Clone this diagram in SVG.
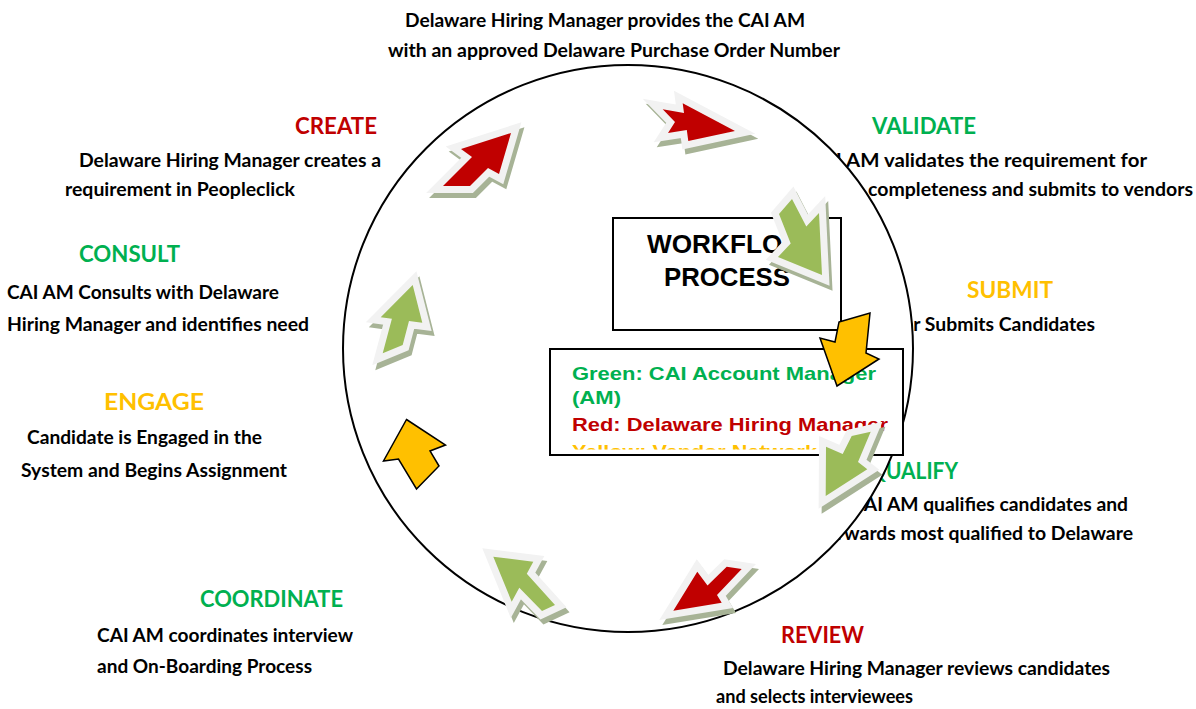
<svg xmlns="http://www.w3.org/2000/svg" xmlns:xlink="http://www.w3.org/1999/xlink" width="1196" height="709" viewBox="0 0 1196 709">
<style>
.t{font-family:Lato,'Liberation Sans',Arial,sans-serif;font-weight:700;font-size:19.5px;fill:#000}
.top{font-size:18px}
.h{font-size:23px}
.red{fill:#C00000}
.grn{fill:#00B050}
.yel{fill:#FFC000}
.lg{font-family:'Liberation Sans',Arial,sans-serif;font-weight:700;font-size:18.5px}
.wf{font-family:'Liberation Sans',Arial,sans-serif;font-weight:700;font-size:26.5px;fill:#000}
.box{fill:#fff;stroke:#000;stroke-width:2}
.sh{fill:#A7B396;stroke:#A7B396;stroke-width:14;stroke-linejoin:miter;stroke-miterlimit:10}
.ar{stroke:#F2F2F2;stroke-width:14;stroke-linejoin:miter;stroke-miterlimit:10;paint-order:stroke}
.fr{fill:#C00000}
.fg{fill:#9BBB59}
.ya{fill:#FFC000;stroke:#000;stroke-width:1.5;stroke-linejoin:miter}
</style>
<defs>
<polygon id="pA" points="511,133 499,174 488,168 470,186 443,186 472,157 461,149"/>
<polygon id="pB" points="662.7,109.3 684,113 682.7,103.3 735,131 688.3,141 686.8,130 668,133 675,122"/>
<polygon id="pC" points="779,214 792,199 806.3,226.6 819,213 822,275 778,257 790.7,243.4"/>
<polygon id="pF" points="412.7,285 422.3,322.7 409,321 402.7,345 382.7,353.3 391.9,318.8 380.7,317.3"/>
<polygon id="pG" points="851.7,436 870.7,431.7 858,462 867.3,469.3 825.7,496 826,446.7 842.7,454"/>
<polygon id="pH" points="673.3,610.7 697.3,571.7 707.5,585.5 726.7,566.7 741.7,569 717,595 721.7,602.7"/>
<polygon id="pI" points="493.3,556.7 533.3,561.7 526.8,573.7 555,605 542,611 519.3,587.7 511.7,601.7"/>
<clipPath id="legclip"><rect x="551" y="350" width="351" height="99.5"/></clipPath>
</defs>

<g id="labels">
<g id="step-po">
<text class="t top" x="405" y="27" textLength="400" lengthAdjust="spacingAndGlyphs">Delaware Hiring Manager provides the CAI AM</text>
<text class="t top" x="388" y="57" textLength="452" lengthAdjust="spacingAndGlyphs">with an approved Delaware Purchase Order Number</text>
</g>
<g id="step-create">
<text class="t h red" x="295" y="134" textLength="82" lengthAdjust="spacingAndGlyphs">CREATE</text>
<text class="t" x="79" y="167" textLength="302" lengthAdjust="spacingAndGlyphs">Delaware Hiring Manager creates a</text>
<text class="t" x="65" y="196" textLength="230" lengthAdjust="spacingAndGlyphs">requirement in Peopleclick</text>
</g>
<g id="step-consult">
<text class="t h grn" x="79" y="262" textLength="101" lengthAdjust="spacingAndGlyphs">CONSULT</text>
<text class="t" x="7" y="299" textLength="272" lengthAdjust="spacingAndGlyphs">CAI AM Consults with Delaware</text>
<text class="t" x="7" y="331" textLength="302" lengthAdjust="spacingAndGlyphs">Hiring Manager and identifies need</text>
</g>
<g id="step-engage">
<text class="t h yel" x="104" y="410" textLength="100" lengthAdjust="spacingAndGlyphs">ENGAGE</text>
<text class="t" x="27" y="444" textLength="235" lengthAdjust="spacingAndGlyphs">Candidate is Engaged in the</text>
<text class="t" x="21" y="477" textLength="266" lengthAdjust="spacingAndGlyphs">System and Begins Assignment</text>
</g>
<g id="step-coordinate">
<text class="t h grn" x="200" y="607" textLength="143" lengthAdjust="spacingAndGlyphs">COORDINATE</text>
<text class="t" x="97" y="642" textLength="256" lengthAdjust="spacingAndGlyphs">CAI AM coordinates interview</text>
<text class="t" x="97" y="673" textLength="215" lengthAdjust="spacingAndGlyphs">and On-Boarding Process</text>
</g>
<g id="step-review">
<text class="t h red" x="781" y="643" textLength="83" lengthAdjust="spacingAndGlyphs">REVIEW</text>
<text class="t" x="723" y="675" textLength="387" lengthAdjust="spacingAndGlyphs">Delaware Hiring Manager reviews candidates</text>
<text class="t" x="716" y="703" textLength="197" lengthAdjust="spacingAndGlyphs">and selects interviewees</text>
</g>
<g id="step-validate">
<text class="t h grn" x="872" y="134" textLength="104" lengthAdjust="spacingAndGlyphs">VALIDATE</text>
<text class="t" x="808" y="167" textLength="339" lengthAdjust="spacingAndGlyphs">CAI AM validates the requirement for</text>
<text class="t" x="868" y="196" textLength="325" lengthAdjust="spacingAndGlyphs">completeness and submits to vendors</text>
</g>
<g id="step-submit">
<text class="t h yel" x="967" y="298" textLength="86" lengthAdjust="spacingAndGlyphs">SUBMIT</text>
<text class="t" x="858" y="331" textLength="237" lengthAdjust="spacingAndGlyphs">Vendor Submits Candidates</text>
</g>
<g id="step-qualify">
<text class="t h grn" x="869" y="479" textLength="89" lengthAdjust="spacingAndGlyphs">QUALIFY</text>
<text class="t" x="851" y="511" textLength="277" lengthAdjust="spacingAndGlyphs">CAI AM qualifies candidates and</text>
<text class="t" x="819" y="540" textLength="314" lengthAdjust="spacingAndGlyphs">forwards most qualified to Delaware</text>
</g>
</g>

<ellipse id="cycle" cx="628" cy="348.5" rx="285" ry="283.5" fill="#fff" stroke="#000" stroke-width="2"/>

<g id="workflow-box">
<rect class="box" x="613" y="218" width="228" height="112"/>
<text class="wf" x="647" y="253" textLength="160" lengthAdjust="spacingAndGlyphs">WORKFLOW</text>
<text class="wf" x="664" y="286" textLength="126" lengthAdjust="spacingAndGlyphs">PROCESS</text>
</g>

<g id="legend-box">
<rect class="box" x="550" y="349" width="353" height="106"/>
<g clip-path="url(#legclip)">
<text class="lg grn" x="572" y="380" textLength="304" lengthAdjust="spacingAndGlyphs">Green: CAI Account Manager</text>
<text class="lg grn" x="572" y="404" textLength="49" lengthAdjust="spacingAndGlyphs">(AM)</text>
<text class="lg red" x="572" y="431" textLength="316" lengthAdjust="spacingAndGlyphs">Red: Delaware Hiring Manager</text>
<text class="lg yel" x="572" y="458" textLength="245" lengthAdjust="spacingAndGlyphs">Yellow: Vendor Network</text>
</g>
</g>

<g id="connectors">
<g id="arrow-create"><use xlink:href="#pA" class="sh" transform="translate(3,5)"/><use xlink:href="#pA" class="ar fr"/></g>
<g id="arrow-po"><use xlink:href="#pB" class="sh" transform="translate(3,5)"/><use xlink:href="#pB" class="ar fr"/></g>
<g id="arrow-validate"><use xlink:href="#pC" class="sh" transform="translate(3,5)"/><use xlink:href="#pC" class="ar fg"/></g>
<g id="arrow-submit"><polygon class="ya" points="839,322 870,313 866,353 879,359 837,386 820,338 835,342"/></g>
<g id="arrow-qualify"><use xlink:href="#pG" class="sh" transform="translate(3,5)"/><use xlink:href="#pG" class="ar fg"/></g>
<g id="arrow-review"><use xlink:href="#pH" class="sh" transform="translate(3,5)"/><use xlink:href="#pH" class="ar fr"/></g>
<g id="arrow-coordinate"><use xlink:href="#pI" class="sh" transform="translate(3,5)"/><use xlink:href="#pI" class="ar fg"/></g>
<g id="arrow-engage"><polygon class="ya" points="406.5,419.5 445.5,445 430,451 439,466 416.5,489 398.5,459 383.5,461"/></g>
<g id="arrow-consult"><use xlink:href="#pF" class="sh" transform="translate(3,5)"/><use xlink:href="#pF" class="ar fg"/></g>
</g>
</svg>
